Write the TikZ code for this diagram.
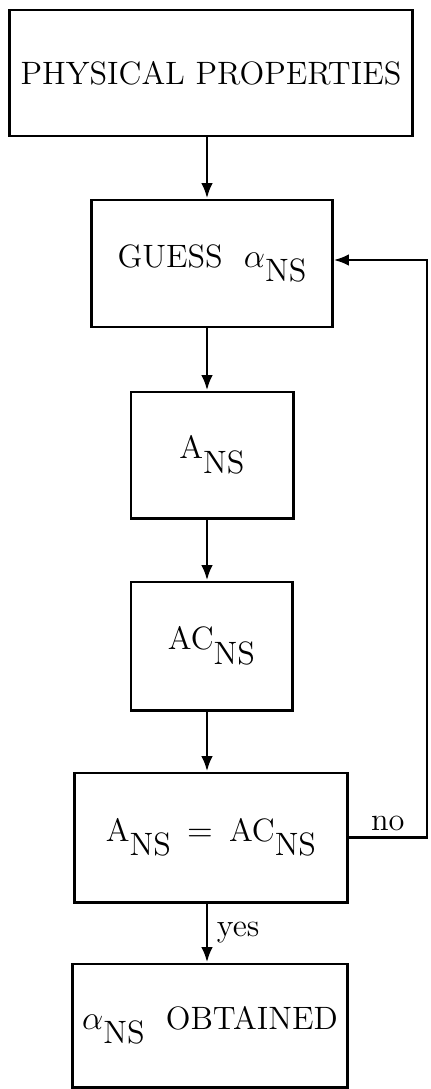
\documentclass[tikz,border=0pt]{standalone}
\usepackage{amsmath,amssymb}
\usepackage{xcolor}
\usepackage{tikz}
\usetikzlibrary{arrows.meta,positioning,calc}

% subscript set at full size, dropped below the baseline
\newcommand{\ns}{\raisebox{-0.45em}{NS}}

\tikzset{
  stepbox/.style={draw,line width=1.05pt,inner sep=0pt,align=center,
    font=\fontsize{11.5}{13}\selectfont},
  flow/.style={line width=1.05pt,line join=miter,-{Latex[length=5.5pt,width=4.2pt]}},
  lbl/.style={font=\fontsize{11.5}{13}\selectfont}
}

\begin{document}
\begin{tikzpicture}[x=0.0125cm,y=-0.0125cm]
    \useasboundingbox (0,0) rectangle (431,1089);
    \coordinate (spine) at (207,0);
    \coordinate (loop) at (427,260);
    % the boxes of the iteration, top to bottom
    \node[stepbox,minimum width=5.025cm,minimum height=1.575cm] (phys) at (211,73) {PHYSICAL\ PROPERTIES};
    \node[stepbox,minimum width=3cm,minimum height=1.5875cm] (guess) at (212,263.5) {GUESS\ \ $\alpha$\ns};
    \node[stepbox,minimum width=2.025cm,minimum height=1.575cm] (ans) at (212,455) {A\ns};
    \node[stepbox,minimum width=2.0125cm,minimum height=1.6cm] (acns) at (211.5,646) {AC\ns};
    \node[stepbox,minimum width=3.4cm,minimum height=1.6125cm] (test) at (211,837.5) {A\ns\enspace$=$\enspace AC\ns};
    \node[stepbox,minimum width=3.425cm,minimum height=1.5375cm] (done) at (210,1025.5) {$\alpha$\ns\ \ OBTAINED};
    % straight-down arrows
    \foreach \a/\b in {phys/guess,guess/ans,ans/acns,acns/test} {
      \draw[flow] (\a.south -| spine) -- (\b.north -| spine);
    }
    \draw[flow] (test.south -| spine) -- node[lbl,right,inner sep=3pt] {yes} (done.north -| spine);
    % back to the guess when the test fails
    \draw[flow] (test.east) -- node[lbl,above,inner sep=2pt] {no} (test.east -| loop) -- (loop) -- (guess.east |- loop);
\end{tikzpicture}
\end{document}
